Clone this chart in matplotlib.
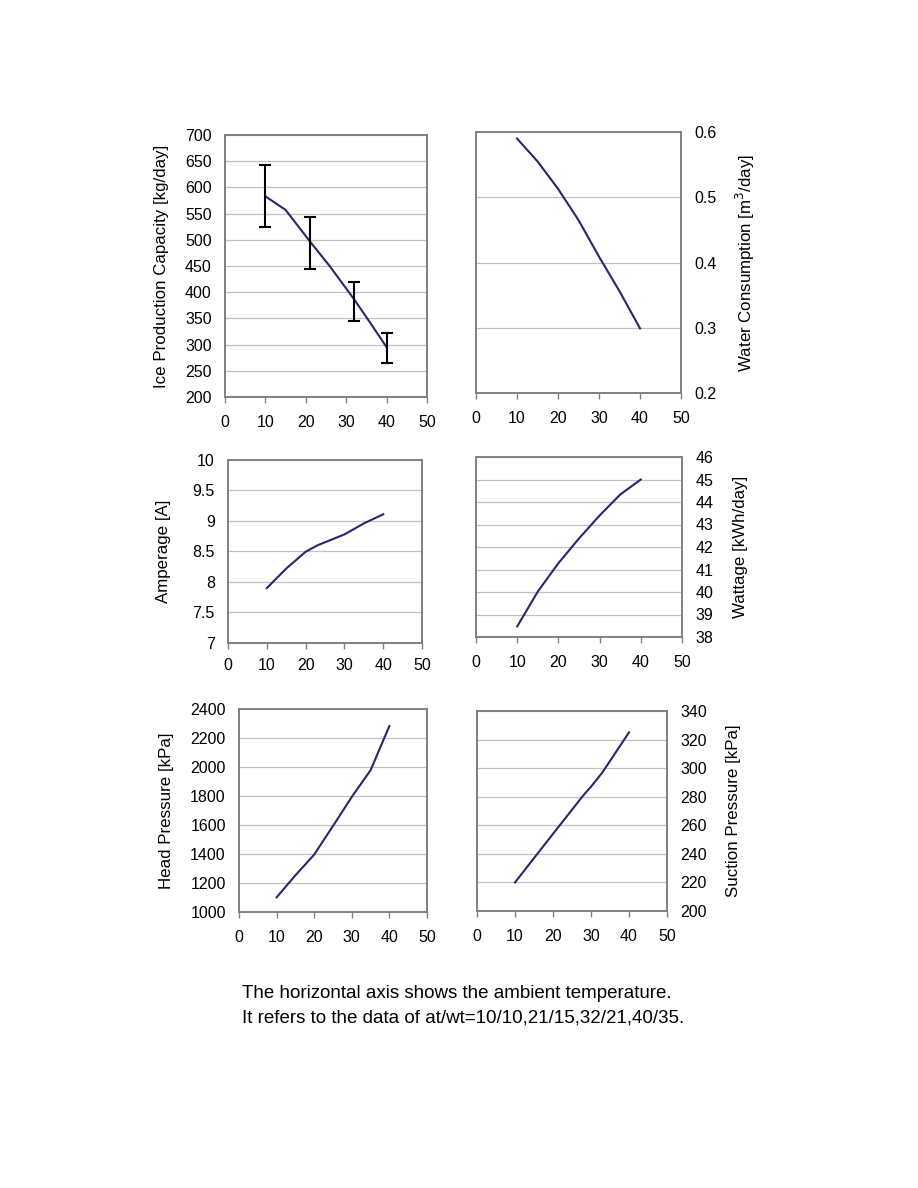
import matplotlib
matplotlib.use("Agg")
import matplotlib.pyplot as plt

plt.rcParams['font.family'] = ['Liberation Sans', 'DejaVu Sans']

# ---- data ----
temp_ice = [10, 15, 21, 26, 32, 36, 40]
ice_capacity = [583, 557, 497, 449, 386, 341, 295]
err_temp = [10, 21, 32, 40]
err_center = [583, 497, 386, 295]
err_low = [525, 445, 345, 264]
err_high = [642, 544, 420, 323]

temp_water = [10, 15, 20, 25, 30, 35, 40]
water = [0.590, 0.555, 0.513, 0.465, 0.409, 0.356, 0.299]

temp_amp = [10, 15, 20, 23, 30, 35, 40]
amperage = [7.90, 8.22, 8.495, 8.60, 8.78, 8.96, 9.11]

temp_watt = [10, 15, 20, 25, 30, 35, 40]
wattage = [38.47, 40.02, 41.28, 42.38, 43.40, 44.33, 45.00]

temp_head = [10, 15, 20, 26, 30, 35, 40]
head = [1101, 1253, 1396, 1633, 1794, 1978, 2283]

temp_suc = [10, 20, 28, 30, 33, 40]
suction = [220, 254, 281, 287, 297, 325]

xticks = [0, 10, 20, 30, 40, 50]

LINE = '#27276e'
FS = 11.5
LFS = 12.2

W, H = 918, 1188
fig = plt.figure(figsize=(W / 100, H / 100), dpi=100)


def make_ax(l, t, r, b):
    ax = fig.add_axes([l / W, 1 - b / H, (r - l) / W, (b - t) / H])
    ax._px = (l, r)
    return ax


def style(ax, yticks, right=False, xpad=9):
    ax.set_xlim(0, 50)
    ax.set_xticks(xticks)
    ax.set_ylim(yticks[0], yticks[-1])
    ax.set_yticks(yticks)
    for s in ax.spines.values():
        s.set_color('#808080')
        s.set_linewidth(1.4)
    ax.grid(axis='y', color='#c0c0c0', linewidth=0.9)
    ax.set_axisbelow(True)
    ax.tick_params(axis='x', length=4, width=1, color='#808080', pad=xpad, labelsize=FS)
    ax.tick_params(axis='y', length=0, pad=9.5, labelsize=FS)
    if right:
        ax.yaxis.tick_right()
        ax.yaxis.set_label_position('right')


def ylabel_at(ax, text, xpix, right=False):
    l, r = ax._px
    ax.set_ylabel(text, fontsize=LFS)
    xpix = xpix - 9 if right else xpix + 9
    ax.yaxis.set_label_coords((xpix - l) / (r - l), 0.5)


# Panel 1
ax1 = make_ax(225, 135, 427, 397)
style(ax1, [200, 250, 300, 350, 400, 450, 500, 550, 600, 650, 700])
ax1.plot(temp_ice, ice_capacity, color=LINE, lw=1.5)
yerr = [[c - lo for c, lo in zip(err_center, err_low)],
        [hi - c for c, hi in zip(err_center, err_high)]]
ax1.errorbar(err_temp, err_center, yerr=yerr, fmt='none', ecolor='black',
             elinewidth=1.5, capsize=4, capthick=1.5)
ylabel_at(ax1, 'Ice Production Capacity [kg/day]', 160)

# Panel 2
ax2 = make_ax(476, 132, 681, 393)
style(ax2, [0.2, 0.3, 0.4, 0.5, 0.6], right=True)
ax2.set_yticklabels(['0.2', '0.3', '0.4', '0.5', '0.6'])
ax2.plot(temp_water, water, color=LINE, lw=1.5)
ylabel_at(ax2, 'Water Consumption [m$^3$/day]', 743, right=True)

# Panel 3
ax3 = make_ax(228, 460, 422, 643)
style(ax3, [7, 7.5, 8, 8.5, 9, 9.5, 10], xpad=7)
ax3.set_yticklabels(['7', '7.5', '8', '8.5', '9', '9.5', '10'])
ax3.plot(temp_amp, amperage, color=LINE, lw=1.5)
ylabel_at(ax3, 'Amperage [A]', 162)

# Panel 4
ax4 = make_ax(476, 457, 682, 637)
style(ax4, list(range(38, 47)), right=True)
ax4.plot(temp_watt, wattage, color=LINE, lw=1.5)
ylabel_at(ax4, 'Wattage [kWh/day]', 742, right=True)

# Panel 5
ax5 = make_ax(239, 709, 427, 912)
style(ax5, [1000, 1200, 1400, 1600, 1800, 2000, 2200, 2400])
ax5.plot(temp_head, head, color=LINE, lw=1.5)
ylabel_at(ax5, 'Head Pressure [kPa]', 165)

# Panel 6
ax6 = make_ax(477, 711, 667, 911)
style(ax6, [200, 220, 240, 260, 280, 300, 320, 340], right=True)
ax6.plot(temp_suc, suction, color=LINE, lw=1.5)
ylabel_at(ax6, 'Suction Pressure [kPa]', 735, right=True)

fig.text(242 / W, 1 - 993 / H, 'The horizontal axis shows the ambient temperature.',
         fontsize=13.5, va='center', ha='left')
fig.text(242 / W, 1 - 1018 / H, 'It refers to the data of at/wt=10/10,21/15,32/21,40/35.',
         fontsize=13.5, va='center', ha='left')

fig.savefig('out.png', dpi=100, facecolor='white')
